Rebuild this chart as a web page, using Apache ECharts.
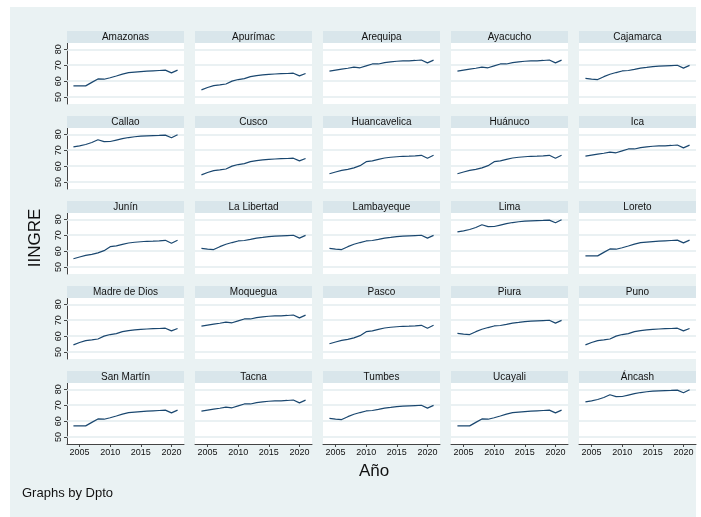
<!DOCTYPE html>
<html>
<head>
<meta charset="utf-8">
<script src="https://cdn.jsdelivr.net/npm/echarts@6/dist/echarts.min.js"></script>
<style>
  html, body { margin: 0; padding: 0; background: #ffffff; }
  #chart { width: 701px; height: 517px; }
</style>
</head>
<body>
<div id="chart"></div>
<script>
// Years on the horizontal axis
const years = [2004, 2005, 2006, 2007, 2008, 2009, 2010, 2011, 2012,
               2013, 2014, 2015, 2016, 2017, 2018, 2019, 2020, 2021];

// IINGRE profiles by group of departments
const amazonia     = [57.0, 57.0, 57.0, 59.2, 61.4, 61.2, 62.1, 63.2, 64.4, 65.3, 65.7, 66.0, 66.3, 66.5, 66.7, 66.9, 65.2, 66.9];
const surAndino    = [54.5, 56.0, 57.2, 57.6, 58.2, 60.0, 61.0, 61.6, 62.8, 63.5, 63.9, 64.3, 64.5, 64.7, 64.8, 65.0, 63.3, 64.8];
const costaSur     = [66.3, 66.9, 67.5, 68.1, 68.8, 68.4, 69.6, 70.8, 70.8, 71.6, 72.1, 72.5, 72.7, 72.8, 73.0, 73.3, 71.5, 73.2];
const costaNorte   = [61.7, 61.3, 61.0, 62.8, 64.3, 65.4, 66.4, 66.7, 67.4, 68.2, 68.6, 69.1, 69.4, 69.6, 69.8, 70.0, 68.2, 69.9];
const limaCallao   = [72.1, 72.8, 73.6, 74.9, 76.6, 75.4, 75.5, 76.4, 77.3, 78.0, 78.5, 78.9, 79.1, 79.2, 79.3, 79.5, 77.9, 79.8];
const centroAndino = [55.2, 56.3, 57.3, 58.0, 58.9, 60.3, 62.8, 63.3, 64.3, 65.1, 65.6, 65.9, 66.2, 66.3, 66.5, 66.8, 65.0, 66.8];

// Departments (panel order) and the profile each one uses
const dptos = ['Amazonas', 'Apurímac', 'Arequipa', 'Ayacucho', 'Cajamarca',
               'Callao', 'Cusco', 'Huancavelica', 'Huánuco', 'Ica',
               'Junín', 'La Libertad', 'Lambayeque', 'Lima', 'Loreto',
               'Madre de Dios', 'Moquegua', 'Pasco', 'Piura', 'Puno',
               'San Martín', 'Tacna', 'Tumbes', 'Ucayali', 'Áncash'];
const dptoValues = [amazonia, surAndino, costaSur, costaSur, costaNorte,
                    limaCallao, surAndino, centroAndino, centroAndino, costaSur,
                    centroAndino, costaNorte, costaNorte, limaCallao, amazonia,
                    surAndino, costaSur, centroAndino, costaNorte, surAndino,
                    amazonia, costaSur, costaNorte, amazonia, limaCallao];

// Tick labels
const xTicks = [2005, 2010, 2015, 2020];
const yTicks = [50, 60, 70, 80];

// Layout of the 5 x 5 panel matrix
const NCOL = 5;
const colX0 = 67, colPitch = 128, panelW = 117;
const rowY0 = 31, rowPitch = 85, headerH = 12, plotH = 61;

const BG = '#eaf2f3';
const STRIP = '#d9e6eb';
const GRIDLINE = '#e3ecef';
const LINE = '#1a476f';
const FONT = '"Liberation Sans", Arial, sans-serif';

const grids = [], xAxes = [], yAxes = [], series = [];
const graphics = [
  { type: 'rect', shape: { x: 10, y: 7, width: 686, height: 510 }, style: { fill: BG }, silent: true, z: -10 }
];

dptos.forEach((name, i) => {
  const r = Math.floor(i / NCOL), c = i % NCOL;
  const left = colX0 + c * colPitch;
  const top = rowY0 + r * rowPitch;
  const firstCol = c === 0, lastRow = r === 4;

  // Title strip above each panel
  graphics.push({
    type: 'rect', silent: true, z: 1,
    shape: { x: left, y: top, width: panelW, height: headerH },
    style: { fill: STRIP }
  });
  graphics.push({
    type: 'text', silent: true, z: 2,
    x: left + panelW / 2, y: top + headerH / 2 + 0.5,
    style: { text: name, fill: '#111', font: '10px ' + FONT, align: 'center', verticalAlign: 'middle' }
  });

  grids.push({
    left: left, top: top + headerH, width: panelW, height: plotH,
    show: true, backgroundColor: '#ffffff', borderWidth: 0
  });

  // Only the bottom row carries the x axis
  xAxes.push({
    type: 'value', gridIndex: i, min: 2002.95, max: 2022.05,
    axisLine: { show: lastRow, onZero: false, lineStyle: { color: '#444', width: 1 } },
    axisTick: { show: lastRow, length: 3, customValues: xTicks, lineStyle: { color: '#444' } },
    axisLabel: {
      show: lastRow, customValues: xTicks, fontSize: 9, color: '#111', fontFamily: FONT, margin: 4,
      formatter: v => String(v)
    },
    splitLine: { show: false }
  });

  // Only the first column carries the y axis
  yAxes.push({
    type: 'value', gridIndex: i, min: 45.6, max: 84,
    axisLine: { show: firstCol, lineStyle: { color: '#444', width: 1 } },
    axisTick: { show: firstCol, length: 3, customValues: yTicks, lineStyle: { color: '#444' } },
    axisLabel: {
      show: firstCol, customValues: yTicks, rotate: 90, fontSize: 9, color: '#111', fontFamily: FONT, margin: 4,
      formatter: v => String(v)
    },
    splitLine: { show: false }
  });

  // The department's line, with horizontal reference lines at the labelled y values
  series.push({
    type: 'line', xAxisIndex: i, yAxisIndex: i,
    data: years.map((y, k) => [y, dptoValues[i][k]]),
    showSymbol: false, symbol: 'none', silent: true,
    lineStyle: { color: LINE, width: 1.2 },
    z: 3,
    markLine: {
      silent: true, symbol: 'none', label: { show: false }, animation: false,
      lineStyle: { color: GRIDLINE, width: 1.5, type: 'solid' },
      data: yTicks.map(v => ({ yAxis: v })),
      z: 1
    }
  });
});

graphics.push({
  type: 'text', silent: true, z: 2,
  x: 35, y: 238, rotation: Math.PI / 2,
  style: { text: 'IINGRE', fill: '#111', font: '17px ' + FONT, align: 'center', verticalAlign: 'middle' }
});
graphics.push({
  type: 'text', silent: true, z: 2,
  x: 374, y: 471,
  style: { text: 'Año', fill: '#111', font: '17px ' + FONT, align: 'center', verticalAlign: 'middle' }
});
graphics.push({
  type: 'text', silent: true, z: 2,
  x: 22, y: 493,
  style: { text: 'Graphs by Dpto', fill: '#111', font: '13px ' + FONT, align: 'left', verticalAlign: 'middle' }
});

const chart = echarts.init(document.getElementById('chart'), null, { renderer: 'canvas' });
chart.setOption({
  animation: false,
  backgroundColor: '#ffffff',
  grid: grids,
  xAxis: xAxes,
  yAxis: yAxes,
  series: series,
  graphic: graphics
});
</script>
</body>
</html>
